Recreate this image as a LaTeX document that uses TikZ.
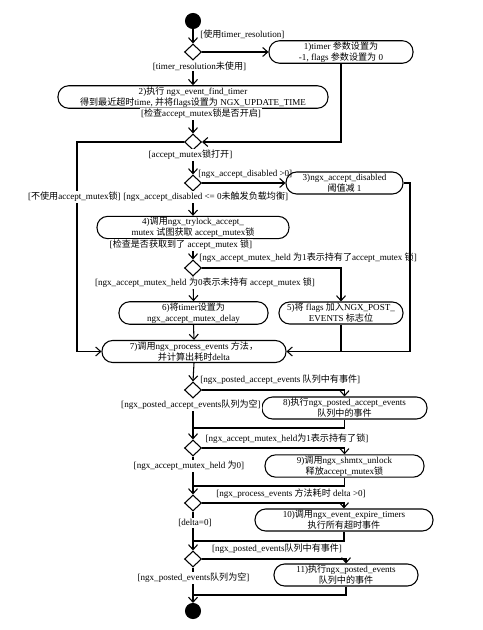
\documentclass[tikz,border=0pt]{standalone}
\usepackage{fontspec}
\setmainfont{Liberation Serif}
\newfontfamily\cjkfont{Noto Sans CJK SC}
\newcommand{\zh}[1]{{\cjkfont #1}}
\usetikzlibrary{shapes.geometric,arrows.meta}

\begin{document}
\begin{tikzpicture}[x=0.75pt,y=0.75pt,yscale=-1,xscale=1,
  every node/.style={font=\fontsize{6.8pt}{8.2pt}\selectfont},
  actbox/.style={draw,line width=0.8pt,rectangle,rounded corners=8pt,minimum height=16.5pt,align=center,inner sep=0.75pt},
  decision/.style={draw,line width=0.8pt,diamond,minimum width=12.75pt,minimum height=12pt,inner sep=0pt},
  startdot/.style={circle,fill=black,draw,line width=0.8pt,minimum size=11.25pt,inner sep=0pt},
  guard/.style={inner sep=0.75pt},
  onguard/.style={inner sep=0.75pt,fill=white},
  flow/.style={line width=0.8pt,-{Straight Barb[length=3.75pt,width=6.75pt]}},
  seg/.style={line width=0.8pt}]
\useasboundingbox (0,0) rectangle (482,630);

%Shape: Circle [id:start]
\node [startdot] (start) at (193,21) {};
%Shape: Circle [id:finish]
\node [startdot] (finish) at (193,611) {};

%Shape: Diamond [id:d1..d8]
\node [decision] (d1) at (193,52) {};
\node [decision] (d2) at (193,142) {};
\node [decision] (d3) at (193,183) {};
\node [decision] (d4) at (193,268) {};
\node [decision] (d5) at (193,390) {};
\node [decision] (d6) at (193,448) {};
\node [decision] (d7) at (193,503) {};
\node [decision] (d8) at (193,559) {};

%Rounded Rect [id:box1..box11]
\node [actbox,minimum width=108pt] (box1) at (341,52) {1)timer \zh{参数设置为}\\-1, flags \zh{参数设置为} 0};
\node [actbox,minimum width=202.5pt] (box2) at (193,97) {2)\zh{执行} ngx\_event\_find\_timer\\\zh{得到最近超时}time, \zh{并将}flags\zh{设置为} NGX\_UPDATE\_TIME};
\node [actbox,minimum width=87.75pt] (box3) at (344.5,183) {3)ngx\_accept\_disabled\\\zh{阈值减} 1};
\node [actbox,minimum width=144pt] (box4) at (193,227.5) {4)\zh{调用}ngx\_trylock\_accept\_\\mutex \zh{试图获取} accept\_mutex\zh{锁}};
\node [actbox,minimum width=93pt] (box5) at (341,313) {5)\zh{将} flags \zh{加入}NGX\_POST\_\\EVENTS \zh{标志位}};
\node [actbox,minimum width=111.75pt] (box6) at (193.5,313) {6)\zh{将}timer\zh{设置为}\\ngx\_accept\_mutex\_delay};
\node [actbox,minimum width=138pt] (box7) at (194,351.5) {7)\zh{调用}ngx\_process\_events \zh{方法，}\\\zh{并计算出耗时}delta};
\node [actbox,minimum width=123.75pt] (box8) at (344.5,408) {8)\zh{执行}ngx\_posted\_accept\_events\\\zh{队列中的事件}};
\node [actbox,minimum width=119.25pt] (box9) at (344.5,466) {9)\zh{调用}ngx\_shmtx\_unlock\\\zh{释放}accept\_mutex\zh{锁}};
\node [actbox,minimum width=133.5pt] (box10) at (344,520) {10)\zh{调用}ngx\_event\_expire\_timers\\\zh{执行所有超时事件}};
\node [actbox,minimum width=108pt] (box11) at (346,575) {11)\zh{执行}ngx\_posted\_events\\\zh{队列中的事件}};

%Coordinates for bends and joins
\coordinate (lft) at (77,0);
\coordinate (rgt) at (410,0);
\coordinate (j1) at (193,428);
\coordinate (j2) at (193,486);
\coordinate (j3) at (193,541);
\coordinate (j4) at (193,595);

%Straight Lines
\draw [flow] (start) -- (d1.north);
\draw [flow] (d1.east) -- (box1.west);
\draw [flow] (d1.south) -- (box2.north);
\draw [flow] (box2.south) -- (d2.north);
\draw [flow] (box1.south) |- (d2.east);
\draw [flow] (d2.west) -- (d2.west -| lft) |- (box7.west);
\draw [flow] (d2.south) -- (d3.north);
\draw [flow] (d3.east) -- (box3.west);
\draw [flow] (d3.south) -- (box4.north);
\draw [flow] (box3.east) -- (box3.east -| rgt) |- (box7.east);
\draw [flow] (box4.south) -- (d4.north);
\draw [flow] (d4.east) -| (box5.north);
\draw [flow] (d4.south) -- (box6.north);
\draw [flow] (box6.south) -- (box7.north);
\draw [seg] (box5.south) -- (box5.south |- box7.east);
\draw [flow] (box7.south) -- (d5.north);
\draw [flow] (d5.east) -| (box8.north);
\draw [flow] (d5.south) -- (d6.north);
\draw [seg] (box8.south) |- (j1);
\draw [flow] (d6.east) -| (box9.north);
\draw [flow] (d6.south) -- (d7.north);
\draw [seg] (box9.south) |- (j2);
\draw [flow] (d7.east) -| (box10.north);
\draw [flow] (d7.south) -- (d8.north);
\draw [seg] (box10.south) |- (j3);
\draw [flow] (d8.east) -| (box11.north);
\draw [flow] (d8.south) -- (finish.north);
\draw [seg] (box11.south) |- (j4);

% Text Node
\node [guard,anchor=west] (g1) at (199,34) {[\zh{使用}timer\_resolution]};
% Text Node
\node [onguard] (g2) at (199.5,66) {[timer\_resolution\zh{未使用}]};
% Text Node
\node [onguard] (g3) at (201,114) {[\zh{检查}accept\_mutex\zh{锁是否开启}]};
% Text Node
\node [onguard] (g4) at (190.5,155) {[accept\_mutex\zh{锁打开}]};
% Text Node
\node [guard,anchor=west] (g5) at (197,174) {[ngx\_accept\_disabled >0]};
% Text Node
\node [onguard,anchor=east] (g6) at (122,197) {[\zh{不使用}accept\_mutex\zh{锁}]};
% Text Node
\node [onguard,anchor=west] (g7) at (122,197) {[ngx\_accept\_disabled <= 0\zh{未触发负载均衡}]};
% Text Node
\node [onguard] (g8) at (181,245) {[\zh{检查是否获取到了} accept\_mutex \zh{锁}]};
% Text Node
\node [guard,anchor=west] (g9) at (198,258) {[ngx\_accept\_mutex\_held \zh{为}1\zh{表示持有了}accept\_mutex \zh{锁}]};
% Text Node
\node [onguard] (g10) at (205,283) {[ngx\_accept\_mutex\_held \zh{为}0\zh{表示未持有} accept\_mutex \zh{锁}]};
% Text Node
\node [guard,anchor=west] (g11) at (199,380) {[ngx\_posted\_accept\_events \zh{队列中有事件}]};
% Text Node
\node [onguard,anchor=east] (g12) at (262,405) {[ngx\_posted\_accept\_events\zh{队列为空}]};
% Text Node
\node [guard] (g13) at (287,439) {[ngx\_accept\_mutex\_held\zh{为}1\zh{表示持有了锁}]};
% Text Node
\node [onguard] (g14) at (189,466) {[ngx\_accept\_mutex\_held \zh{为}0]};
% Text Node
\node [guard] (g15) at (291,494) {[ngx\_process\_events \zh{方法耗时} delta >0]};
% Text Node
\node [onguard] (g16) at (195,523) {[delta=0]};
% Text Node
\node [guard] (g17) at (277,549) {[ngx\_posted\_events\zh{队列中有事件}]};
% Text Node
\node [onguard] (g18) at (193.5,578) {[ngx\_posted\_events\zh{队列为空}]};

\end{tikzpicture}
\end{document}
